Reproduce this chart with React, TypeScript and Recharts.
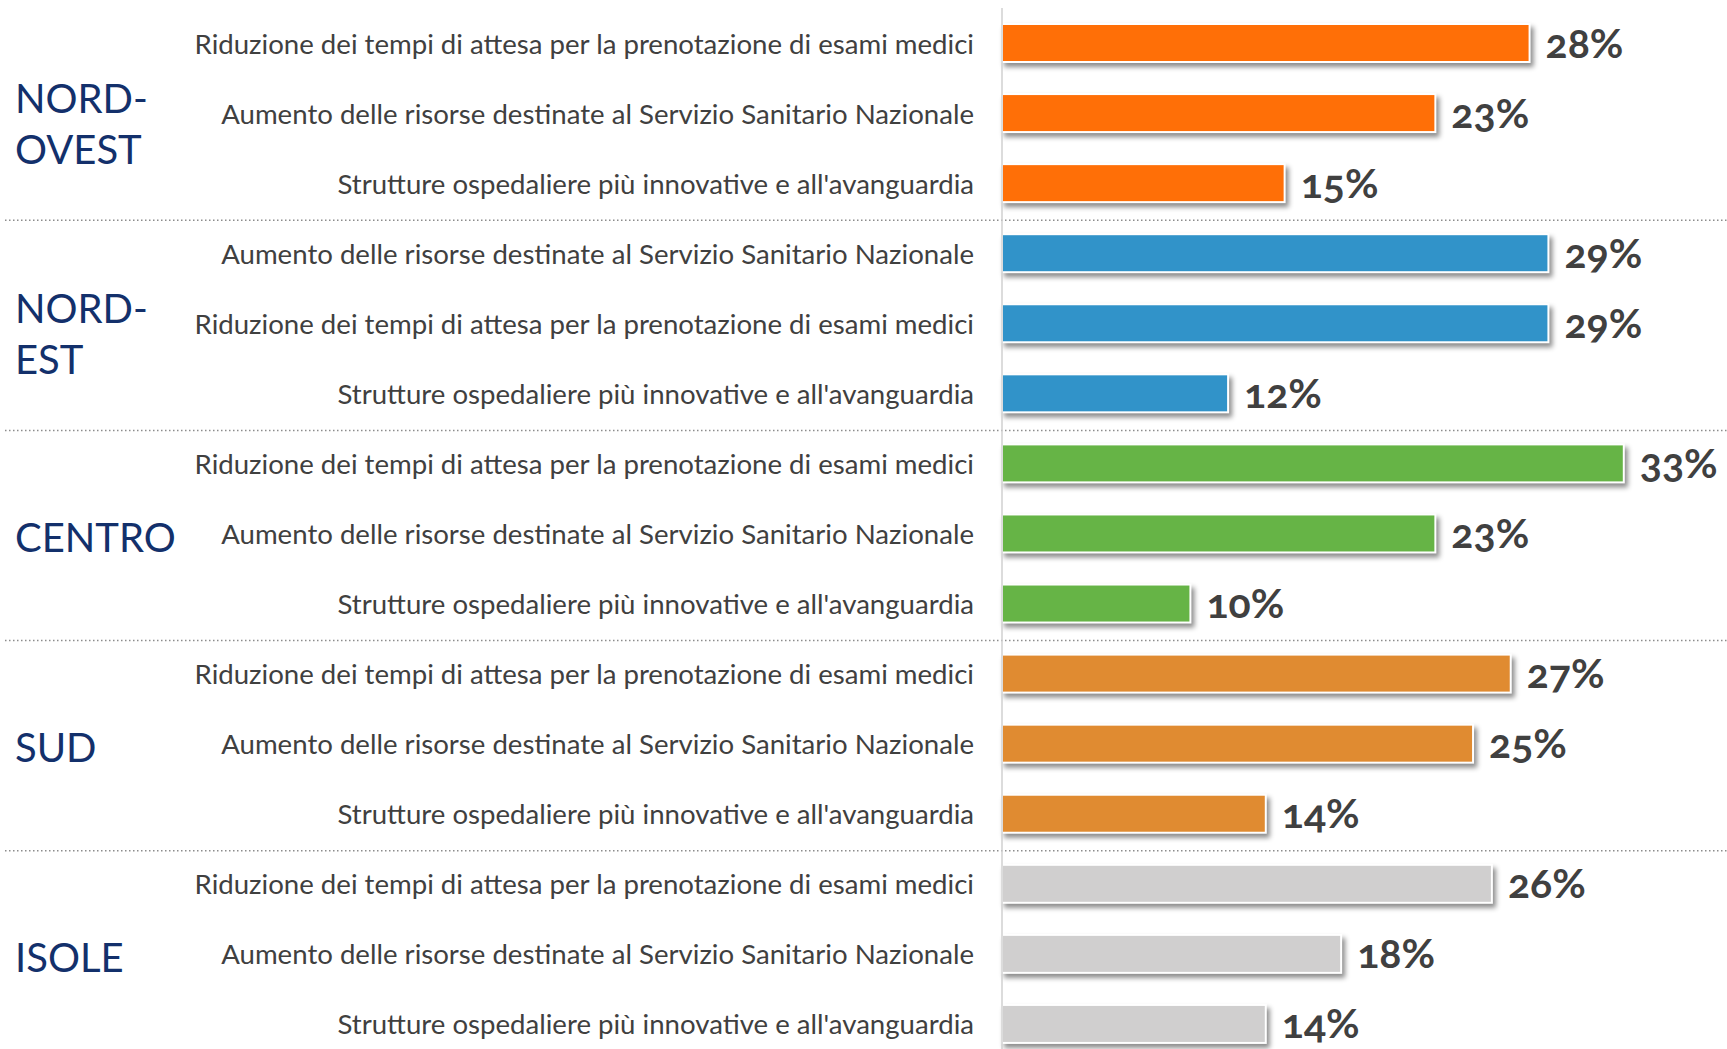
import React from "react";
import { BarChart, Bar, XAxis, YAxis, Cell, LabelList, ReferenceLine } from "recharts";

const regions = ["NORD-OVEST", "NORD-EST", "CENTRO", "SUD", "ISOLE"];
const regionLines = [["NORD-", "OVEST"], ["NORD-", "EST"], ["CENTRO"], ["SUD"], ["ISOLE"]];
const regionColors = ["#ff6f07", "#3193c9", "#66b446", "#e08b31", "#d0cfcf"];

const RIDUZIONE = "Riduzione dei tempi di attesa per la prenotazione di esami medici";
const AUMENTO = "Aumento delle risorse destinate al Servizio Sanitario Nazionale";
const STRUTTURE = "Strutture ospedaliere più innovative e all'avanguardia";

const nordOvestItems = [RIDUZIONE, AUMENTO, STRUTTURE];
const nordOvestValues = [28, 23, 15];
const nordEstItems = [AUMENTO, RIDUZIONE, STRUTTURE];
const nordEstValues = [29, 29, 12];
const centroItems = [RIDUZIONE, AUMENTO, STRUTTURE];
const centroValues = [33, 23, 10];
const sudItems = [RIDUZIONE, AUMENTO, STRUTTURE];
const sudValues = [27, 25, 14];
const isoleItems = [RIDUZIONE, AUMENTO, STRUTTURE];
const isoleValues = [26, 18, 14];

const groupItems = [nordOvestItems, nordEstItems, centroItems, sudItems, isoleItems];
const groupValues = [nordOvestValues, nordEstValues, centroValues, sudValues, isoleValues];

const data = regions.flatMap((region, g) =>
  groupItems[g].map((label, i) => ({
    id: `${g}-${i}`,
    region,
    group: g,
    row: i,
    label,
    value: groupValues[g][i],
  }))
);

const FONT = "Lato, 'Open Sans', sans-serif";

const ItemTick = (props: any) => {
  const { x, y, payload } = props;
  const d = data.find((r) => r.id === payload.value);
  if (!d) return null;
  const lines = regionLines[d.group];
  return (
    <g>
      <text x={x - 20} y={y} textAnchor="end" dominantBaseline="central"
        fill="#404040" fontSize={27.6} fontFamily={FONT}>
        {d.label}
      </text>
      {d.row === 1 && (
        lines.length === 1 ? (
          <text x={15} y={y + 3} dominantBaseline="central" fill="#13306b"
            fontSize={40} fontFamily={FONT}>
            {lines[0]}
          </text>
        ) : (
          <text x={15} y={y} dominantBaseline="central" fill="#13306b"
            fontSize={40} fontFamily={FONT}>
            <tspan x={15} y={y - 15}>{lines[0]}</tspan>
            <tspan x={15} y={y + 36}>{lines[1]}</tspan>
          </text>
        )
      )}
    </g>
  );
};

const Separator = (p: any) => (
  <line x1={5} x2={1727} y1={p.y1 + 2} y2={p.y1 + 2}
    stroke="#8c8c8c" strokeWidth={1.5} strokeDasharray="1.5 2.5" />
);

const BarShape = (p: any) => (
  <rect x={p.x} y={p.y} width={p.width} height={p.height} fill={p.fill}
    stroke="#ffffff" strokeWidth={2}
    style={{ filter: "drop-shadow(3px 4px 2.5px rgba(0,0,0,0.45))" }} />
);

export default function App() {
  return (
    <div style={{ position: "absolute", left: 0, top: 0, width: 1727, height: 1049, overflow: "hidden", background: "#fff" }}>
      <BarChart width={1727} height={1060} data={data} layout="vertical"
        margin={{ top: 8, right: 9, bottom: 1, left: 0 }} barSize={38}>
        <XAxis type="number" domain={[0, 38]} hide />
        <YAxis type="category" dataKey="id" width={1002}
          axisLine={{ stroke: "#d0d0d0", strokeWidth: 1.5 }} tickLine={false}
          tick={(props: any) => <ItemTick {...props} />} interval={0} />
        {[1, 2, 3, 4].map((g) => (
          <ReferenceLine key={g} y={`${g}-0`} position="start" shape={(p: any) => <Separator {...p} />} />
        ))}
        <Bar dataKey="value" isAnimationActive={false} shape={(p: any) => <BarShape {...p} />}>
          {data.map((d) => (
            <Cell key={d.id} fill={regionColors[d.group]} />
          ))}
          <LabelList dataKey="value" position="right" offset={16}
            formatter={(v: any) => `${v}%`}
            style={{ fill: "#404040", fontSize: 41, fontWeight: 700, fontFamily: FONT, fontVariantNumeric: "oldstyle-nums" }} />
        </Bar>
      </BarChart>
    </div>
  );
}
